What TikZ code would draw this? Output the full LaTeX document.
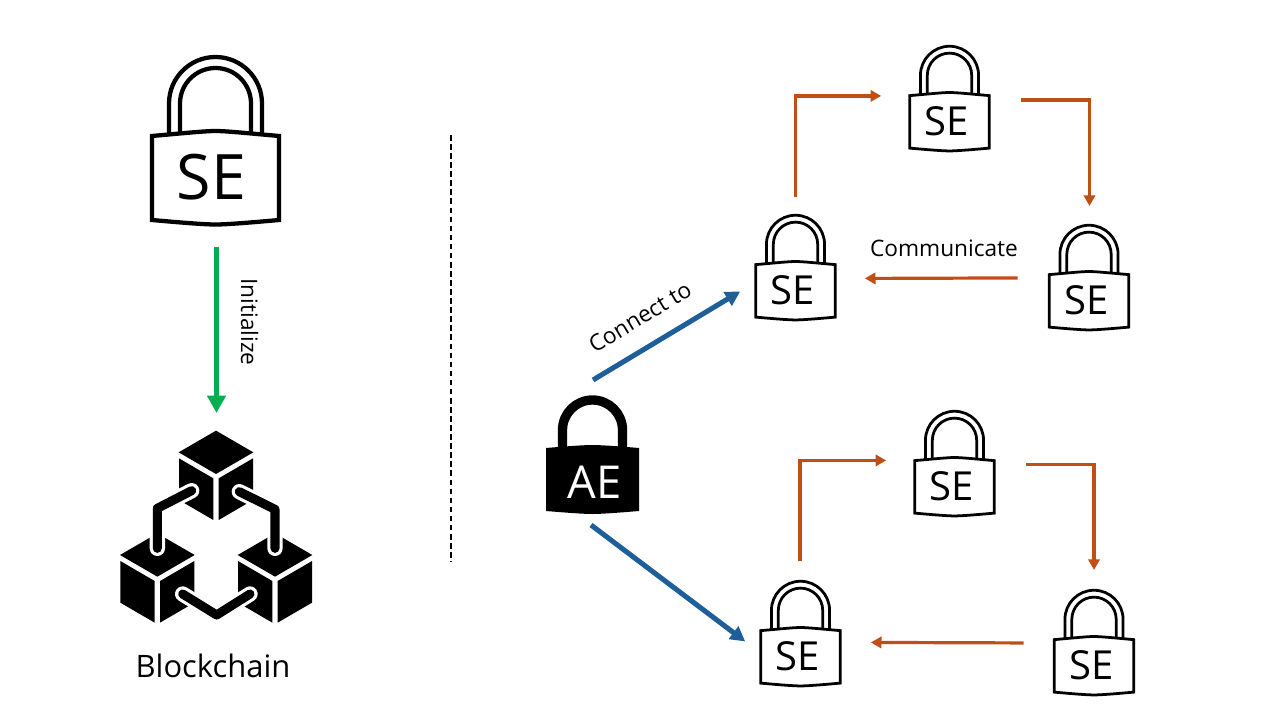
\documentclass[tikz,border=0pt]{standalone}
\usepackage{fontspec}
\setmainfont{Open Sans}
\usetikzlibrary{arrows.meta,calc}
\definecolor{gr}{HTML}{00B050}
\definecolor{bl}{HTML}{1F5F99}
\definecolor{og}{HTML}{C04F15}
\tikzset{
  lockbox/.style={inner sep=0pt,outer sep=0pt,minimum width=#1*96.75pt,minimum height=#1*128.25pt,anchor=north},
  greenarrow/.style={draw=gr,line width=3.9pt,-{Triangle[length=13pt,width=13.5pt]}},
  bluearrow/.style={draw=bl,line width=3.8pt,-{Triangle[length=11pt,width=11.5pt]}},
  orangearrow/.style={draw=og,line width=2.4pt,-{Triangle[length=8pt,width=8.5pt]}},
  biglabel/.style={inner sep=0pt,font=\fontsize{17}{20}\selectfont},
  linkhalo/.style={draw=white,line width=11.5pt,line cap=round,line join=round},
  linkcore/.style={draw=black,line width=6.8pt,line cap=round,line join=round},
}
% name, centre x, top y, scale, font size
\newcommand{\locksym}[5]{%
  \node[lockbox=#4] (#1) at (#2,#3) {};
  \begin{scope}[shift={(#2,#3)},x=#4*0.75pt,y=-#4*0.75pt,line width=#4*3pt+0.2pt,line join=miter]
    \draw (-46.5,80) -- (-46.5,48.5) arc[start angle=180,end angle=360,radius=46.5] -- (46.5,80);
    \draw (-35.5,78) -- (-35.5,48.5) arc[start angle=180,end angle=360,radius=35.5] -- (35.5,78);
    \draw[fill=white] (-63.5,81) .. controls (-30,78) and (-10,76) .. (0,76) .. controls (10,76) and (30,78) .. (63.5,81)
       -- (63.5,165) .. controls (30,168) and (10,169.5) .. (0,169.5) .. controls (-10,169.5) and (-30,168) .. (-63.5,165) -- cycle;
    \node[inner sep=0pt,font=\fontsize{#5}{#5}\selectfont] (#1-t) at (-4,122) {SE};
  \end{scope}}
% top face apex x,y in zoom units
\newcommand{\cubesym}[2]{%
  \begin{scope}[shift={(#1,#2)}]
    \fill (0,0) -- (112,65) -- (0,130) -- (-112,65) -- cycle;
    \fill (-111,83) -- (-8,143) -- (-8,268) -- (-111,208) -- cycle;
    \fill (8,143) -- (111,83) -- (111,208) -- (8,268) -- cycle;
  \end{scope}}
\begin{document}
\begin{tikzpicture}[x=0.75pt,y=-0.75pt]
\useasboundingbox (0,0) rectangle (1280,720);
\locksym{seb}{215.5}{55}{1}{47}
\locksym{ua}{795.5}{214}{0.625}{30}
\locksym{ub}{949.5}{45}{0.625}{30}
\locksym{uc}{1089}{224}{0.625}{30}
\locksym{la}{800.5}{580}{0.625}{30}
\locksym{lb}{954.5}{410}{0.625}{30}
\locksym{lc}{1094}{589}{0.625}{30}
% AE lock
\node[inner sep=0pt,outer sep=0pt,minimum width=69.75pt,minimum height=89.25pt,anchor=north] (ae) at (592.5,395) {};
\draw[line width=7pt] (562.5,450) -- (562.5,430) arc[start angle=180,end angle=360,radius=30] -- (622.5,450);
\fill (546,448) .. controls (570,446) and (585,445) .. (592.5,445) .. controls (600,445) and (615,446) .. (639,448)
   -- (639,511) .. controls (615,513) and (600,514) .. (592.5,514) .. controls (585,514) and (570,513) .. (546,511) -- cycle;
\node[inner sep=0pt,text=white,font=\fontsize{34}{34}\selectfont] (ae-t) at (594.5,482) {AE};
% Blockchain icon
\begin{scope}[shift={(100,420)},x=0.25pt,y=-0.25pt]
  \cubesym{348}{32}
  \cubesym{172}{340}
  \cubesym{525}{340}
  \draw[linkhalo] (275,212) -- (172,265) -- (172,385);
  \draw[linkhalo] (418,215) -- (525,268) -- (525,385);
  \draw[linkhalo] (248,522) -- (350,585) -- (450,522);
  \draw[linkcore] (275,212) -- (172,265) -- (172,385);
  \draw[linkcore] (418,215) -- (525,268) -- (525,385);
  \draw[linkcore] (248,522) -- (350,585) -- (450,522);
\end{scope}
\node[inner sep=0pt,outer sep=0pt,minimum width=144pt,minimum height=144pt] (chain) at (216.5,526) {};
\node[inner sep=0pt,font=\fontsize{23.2}{26}\selectfont] (bc) at (213,665.5) {Blockchain};
% divider
\coordinate (dtop) at (451,135);
\coordinate (dbot) at (451,562);
\draw[line width=1pt,dash pattern=on 4.2pt off 2.6pt] (dtop) -- (dbot);
% connectors
\draw[greenarrow] ($(seb.south)+(1,21)$) -- ($(chain.north)+(0,-17)$);
\draw[bluearrow] ($(ae.north)+(0.5,-15)$) -- ($(ua.west)+(-15,24)$);
\draw[bluearrow] ($(ae.south)+(-1.5,11)$) -- ($(la.west)+(-15,8)$);
\draw[orangearrow] ($(ua.north)+(0,-17)$) |- ($(ub.west)+(-28,-2.5)$);
\draw[orangearrow] ($(ub.east)+(31,1.5)$) -| ($(uc.north)+(0.5,-18)$);
\draw[orangearrow] ($(uc.west)+(-31,0.5)$) -- ($(ua.east)+(29,11)$);
\draw[orangearrow] ($(la.north)+(-0.5,-19)$) |- ($(lb.west)+(-28,-3)$);
\draw[orangearrow] ($(lb.east)+(31,1)$) -| ($(lc.north)+(0,-19)$);
\draw[orangearrow] ($(lc.west)+(-30,0.5)$) -- ($(la.east)+(30,9)$);
% labels
\node[biglabel,rotate=-90] (init) at (249.5,322) {Initialize};
\node[biglabel,rotate=31] (conn) at (640,317) {Connect to};
\node[biglabel] (comm) at (944,248) {Communicate};
\end{tikzpicture}
\end{document}
